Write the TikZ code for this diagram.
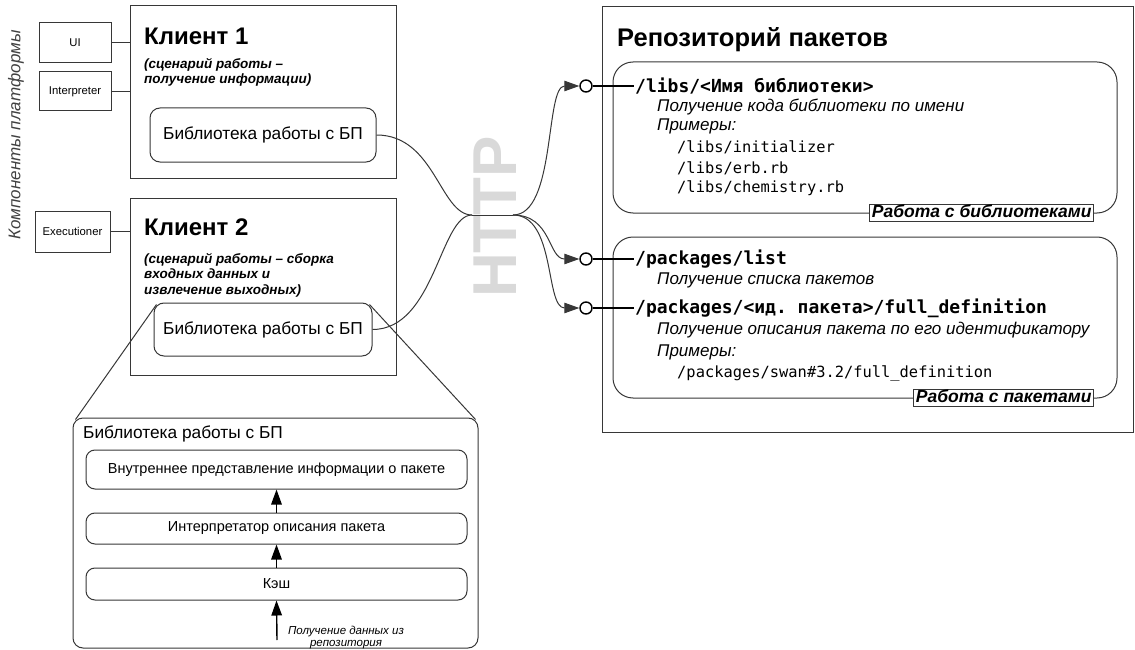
\documentclass[tikz,border=0pt]{standalone}
\usepackage{fontspec}
\setmainfont{Liberation Sans}
\setmonofont{DejaVu Sans Mono}
\usetikzlibrary{arrows.meta,calc}

\newcommand\fsz[2]{\fontsize{#1}{#2}\selectfont}
\definecolor{linec}{RGB}{55,55,55}
\definecolor{httpgray}{RGB}{217,217,217}

\tikzset{
  boxline/.style={draw=linec, line width=1pt},
  compbox/.style={boxline, fill=white, inner sep=0pt, font=\fsz{11.3}{13}},
  clientbox/.style={boxline, inner sep=0pt},
  libbox/.style={boxline, fill=white, rounded corners=10pt, inner sep=0pt},
  layerbox/.style={boxline, fill=white, rounded corners=9pt, inner sep=0pt, font=\fsz{14.5}{17}},
  groupbox/.style={boxline, rounded corners=20pt, inner sep=0pt},
  grouplabel/.style={draw=linec, line width=1pt, fill=white, inner xsep=2pt, inner ysep=0.5pt,
    text height=12.5pt, text depth=3pt, font=\fsz{17.5}{19}\bfseries\itshape},
  bigtitle/.style={anchor=west, inner sep=0pt, font=\fsz{24}{28}\bfseries},
  subtitle/.style={anchor=north west, inner sep=0pt, align=left,
    font=\fsz{13.5}{15.5}\bfseries\itshape},
  route/.style={anchor=west, inner sep=1pt, font=\fsz{18}{20}\ttfamily\bfseries},
  desc/.style={anchor=west, inner sep=0pt, font=\fsz{17}{19}\itshape},
  example/.style={anchor=west, inner sep=0pt, font=\fsz{15.4}{18}\ttfamily},
  port/.style={circle, draw=black, line width=1.4pt, fill=white, minimum size=12pt, inner sep=0pt},
  wire/.style={draw=linec, line width=1pt},
  portline/.style={draw=black, line width=1.4pt},
  headtip/.style={-{Triangle[length=15pt,width=10.5pt]}},
  uparrow/.style={draw=black, line width=1.4pt, headtip}
}

\begin{document}
\begin{tikzpicture}[x=1pt,y=-1pt]
\useasboundingbox (0,0) rectangle (1135,650);

% platform components caption
\node[rotate=90, inner sep=0pt, text=black!75, font=\fsz{17}{20}\itshape] (platcap) at (16,135) {Компоненты платформы};

% HTTP watermark behind the connectors
\node[rotate=90, inner sep=0pt, text=httpgray, font=\fsz{62}{70}\bfseries] (http) at (495,217) {HTTP};

% platform components
\node[compbox, minimum width=72pt, minimum height=40pt] (ui) at (75,43) {UI};
\node[compbox, minimum width=72pt, minimum height=39pt] (interp) at (75,91.5) {Interpreter};
\node[compbox, minimum width=75pt, minimum height=41pt] (exec) at (72.5,231.5) {Executioner};

% clients
\node[clientbox, minimum width=266pt, minimum height=172pt] (cl1) at (263,92) {};
\node[clientbox, minimum width=266pt, minimum height=177pt] (cl2) at (263,286.5) {};

\draw[wire] (ui.east) -- (ui.east -| cl1.west);
\draw[wire] (interp.east) -- (interp.east -| cl1.west);
\draw[wire] (exec.east) -- (exec.east -| cl2.west);

\node[bigtitle] (cl1t) at (144,36) {Клиент 1};
\node[subtitle] (cl1s) at (144,58) {(сценарий работы –\\получение информации)};
\node[libbox, minimum width=226pt, minimum height=54pt, font=\fsz{17.3}{20}] (lib1) at (263,135) {Библиотека работы с БП};

\node[bigtitle] (cl2t) at (144,227) {Клиент 2};
\node[subtitle] (cl2s) at (144,253) {(сценарий работы – сборка\\входных данных и\\извлечение выходных)};
\node[libbox, minimum width=218pt, minimum height=53pt, font=\fsz{17.3}{20}] (lib2) at (263,329.5) {Библиотека работы с БП};

% expanded view of the library
\node[libbox, minimum width=405pt, minimum height=230pt] (big) at (275.5,533) {};
\draw[wire] ([shift={(3pt,-2pt)}]lib2.north west) -- ([shift={(3pt,-2pt)}]big.north west);
\draw[wire] ([shift={(-3pt,-2pt)}]lib2.north east) -- ([shift={(-3pt,-2pt)}]big.north east);
\node[anchor=west, inner sep=0pt, font=\fsz{17.3}{20}] (bigt) at (83,434) {Библиотека работы с БП};

\node[layerbox, minimum width=381pt, minimum height=39pt] (l1) at (276.5,469.5) {Внутреннее представление информации о пакете};
\node[layerbox, minimum width=381pt, minimum height=31pt] (l2) at (276.5,528.5) {Интерпретатор описания пакета};
\node[layerbox, minimum width=381pt, minimum height=32pt] (l3) at (276.5,584) {Кэш};
\coordinate (src) at (277,640);
\draw[uparrow] (l2.north) -- (l1.south);
\draw[uparrow] (l3.north) -- (l2.south);
\draw[uparrow] (src) -- (l3.south);
\node[inner sep=0pt, align=center, font=\fsz{11.5}{12.5}\itshape] (srcl) at (346,637.5) {Получение данных из\\репозитория};

% package repository
\node[clientbox, minimum width=531pt, minimum height=425pt] (repo) at (867.5,219.5) {};
\node[bigtitle, font=\fsz{25.5}{28}\bfseries] (repot) at (617,40) {Репозиторий пакетов};
\node[groupbox, minimum width=504pt, minimum height=151pt] (g1) at (865,137.5) {};
\node[groupbox, minimum width=504pt, minimum height=161pt] (g2) at (865,317.5) {};
\node[grouplabel, anchor=east] (g1l) at (1094,213) {Работа с библиотеками};
\node[grouplabel, anchor=east] (g2l) at (1094,398) {Работа с пакетами};

\node[route] (r1) at (634,86) {/libs/<Имя библиотеки>};
\node[desc] (r1d) at (657,107) {Получение кода библиотеки по имени};
\node[desc] (r1e) at (657,126) {Примеры:};
\node[example] (r1a) at (677,147) {/libs/initializer};
\node[example] (r1b) at (677,168) {/libs/erb.rb};
\node[example] (r1c) at (677,188) {/libs/chemistry.rb};

\node[route] (r2) at (634,259) {/packages/list};
\node[desc] (r2d) at (657,280) {Получение списка пакетов};
\node[route] (r3) at (634,308) {/packages/<ид. пакета>/full\_definition};
\node[desc] (r3d) at (657,330) {Получение описания пакета по его идентификатору};
\node[desc] (r3e) at (657,352) {Примеры:};
\node[example] (r3a) at (677,373) {/packages/swan\#3.2/full\_definition};

% HTTP ports
\node[port] (p1) at (586,86) {};
\node[port] (p2) at (586,259) {};
\node[port] (p3) at (586,308) {};
\draw[portline] (p1.east) -- (r1.west);
\draw[portline] (p2.east) -- (r2.west);
\draw[portline] (p3.east) -- (r3.west);

% HTTP connections
\coordinate (hubL) at (472,215);
\coordinate (hubR) at (513,215);
\draw[wire] (lib1.east) .. controls (435,135) and (440,215) .. (hubL);
\draw[wire] (lib2.east) .. controls (435,329.5) and (440,215) .. (hubL);
\draw[wire] (hubL) -- (hubR);
\draw[wire, headtip] (hubR) .. controls (556,215) and (545,86) .. (p1.west);
\draw[wire, headtip] (hubR) .. controls (552,215) and (548,259) .. (p2.west);
\draw[wire, headtip] (hubR) .. controls (556,215) and (545,308) .. (p3.west);
\end{tikzpicture}
\end{document}
